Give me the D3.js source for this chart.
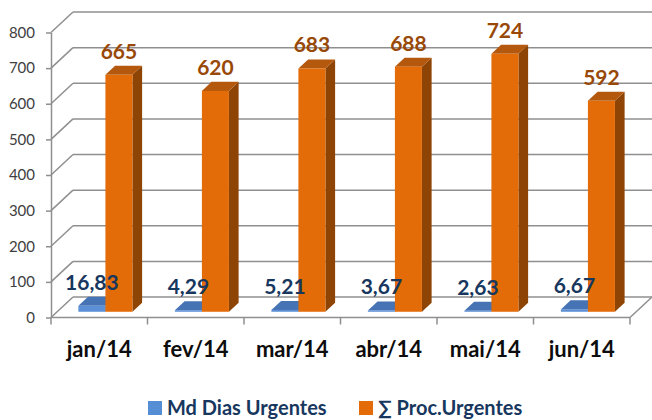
<!DOCTYPE html>
<html><head><meta charset="utf-8">
<script src="https://cdn.jsdelivr.net/npm/d3@7"></script>
<style>html,body{margin:0;padding:0;background:#fff;}svg{display:block;}</style>
</head><body>
<svg id="chart" width="652" height="420"></svg>
<script>
const categories = ["jan/14","fev/14","mar/14","abr/14","mai/14","jun/14"];
const seriesNames = ["Md Dias Urgentes","\u2211 Proc.Urgentes"];
const mdDias = [16.83, 4.29, 5.21, 3.67, 2.63, 6.67];
const procUrg = [665, 620, 683, 688, 724, 592];
const yTicks = [0,100,200,300,400,500,600,700,800];

const svg = d3.select("#chart");
const font = "Lato, 'Open Sans', sans-serif";
const left = 51, right = 630, y0 = 317.5, yTop = 32.5;
const DX = 22, DY = -20.5;      // depth of the 3D box
const f0 = 0.28, f1 = 0.72;     // bar depth span
const gridColor = "#8f8f8f";

const y = d3.scaleLinear().domain([0,800]).range([y0, yTop]);
const x0 = d3.scaleBand().domain(categories).range([left, right]).paddingInner(0.44).paddingOuter(0.22);
const x1 = d3.scaleBand().domain(seriesNames).range([0, x0.bandwidth()]).padding(0);

const colors = {
  [seriesNames[0]]: {front:"#5B8FD6", top:"#4573B4", side:"#36609A", label:"#17375E", legend:"#558ED5"},
  [seriesNames[1]]: {front:"#E36C09", top:"#B3580C", side:"#8E4405", label:"#984807", legend:"#E36C09"}
};
const values = {[seriesNames[0]]: mdDias, [seriesNames[1]]: procUrg};
const fmt = {
  [seriesNames[0]]: d3.formatLocale({decimal:",",thousands:".",grouping:[3],currency:["R$",""]}).format(".2f"),
  [seriesNames[1]]: d3.format("d")
};

// back wall gridlines and left wall diagonals
const grid = svg.append("g");
yTicks.forEach(t => {
  grid.append("line").attr("x1", left+DX).attr("x2", right+DX)
    .attr("y1", y(t)+DY).attr("y2", y(t)+DY)
    .attr("stroke", gridColor).attr("stroke-width", 1.5);
  grid.append("line").attr("x1", left).attr("x2", left+DX)
    .attr("y1", y(t)).attr("y2", y(t)+DY)
    .attr("stroke", gridColor).attr("stroke-width", 1.5);
});
// floor front edge and right edge
grid.append("line").attr("x1", left).attr("x2", right).attr("y1", y(0)).attr("y2", y(0))
  .attr("stroke", gridColor).attr("stroke-width", 1.5);
grid.append("line").attr("x1", right).attr("x2", right+DX).attr("y1", y(0)).attr("y2", y(0)+DY)
  .attr("stroke", gridColor).attr("stroke-width", 1.5);
// category boundary ticks
const bounds = categories.map(c => x0(c) - x0.step()*x0.paddingInner()/2).concat([right]);
bounds[0] = left;
bounds.forEach(b => grid.append("line").attr("x1", b).attr("x2", b).attr("y1", y(0)).attr("y2", y(0)+7)
  .attr("stroke", gridColor).attr("stroke-width", 1.5));

// y axis
const yAxis = svg.append("g").attr("transform", `translate(${left},0)`)
  .call(d3.axisLeft(y).tickValues(yTicks).tickSize(5).tickSizeOuter(0).tickPadding(11));
yAxis.select(".domain").attr("stroke", gridColor).attr("stroke-width", 1.5);
yAxis.selectAll(".tick line").attr("stroke", gridColor).attr("stroke-width", 1.5);
yAxis.selectAll("text").attr("font-family", font).attr("font-size", 15).attr("fill", "#404040");

// x axis labels
const xAxis = svg.append("g").attr("transform", `translate(0,${y0})`)
  .call(d3.axisBottom(x0).tickSize(0).tickPadding(24));
xAxis.select(".domain").remove();
xAxis.selectAll("text").attr("font-family", font).attr("font-size", 22).attr("font-weight", "bold").attr("fill", "#0D0D0D");

// 3D bars
const bars = svg.append("g");
function poly(pts){ return pts.map(p => p.join(",")).join(" "); }
categories.forEach((c, i) => {
  seriesNames.forEach(s => {
    const v = values[s][i];
    const col = colors[s];
    const xa = x0(c) + x1(s) + f0*DX, xb = xa + x1.bandwidth();
    const yb = y(0) + f0*DY, yt = y(v) + f0*DY;
    const ddx = (f1-f0)*DX, ddy = (f1-f0)*DY;
    bars.append("polygon").attr("points", poly([[xb,yb],[xb+ddx,yb+ddy],[xb+ddx,yt+ddy],[xb,yt]])).attr("fill", col.side);
    bars.append("polygon").attr("points", poly([[xa,yt],[xb,yt],[xb+ddx,yt+ddy],[xa+ddx,yt+ddy]])).attr("fill", col.top);
    bars.append("rect").attr("x", xa).attr("y", yt).attr("width", xb-xa).attr("height", Math.max(0, yb-yt)).attr("fill", col.front);
  });
});
// labels
categories.forEach((c, i) => {
  seriesNames.forEach(s => {
    const v = values[s][i];
    const xa = x0(c) + x1(s) + f0*DX;
    svg.append("text").attr("x", xa + x1.bandwidth()/2).attr("y", y(v) + f0*DY - 16)
      .attr("text-anchor", "middle").attr("font-family", font).attr("font-size", 21)
      .attr("font-weight", "bold").attr("fill", colors[s].label).text(fmt[s](v));
  });
});

// legend
const legendX = [148, 359];
seriesNames.forEach((s, k) => {
  svg.append("rect").attr("x", legendX[k]).attr("y", 401).attr("width", 14).attr("height", 14).attr("fill", colors[s].legend);
  svg.append("text").attr("x", legendX[k] + 19).attr("y", 415).attr("font-family", font).attr("font-size", 20)
    .attr("font-weight", "bold").attr("fill", "#17375E").text(s);
});
</script>
</body></html>
